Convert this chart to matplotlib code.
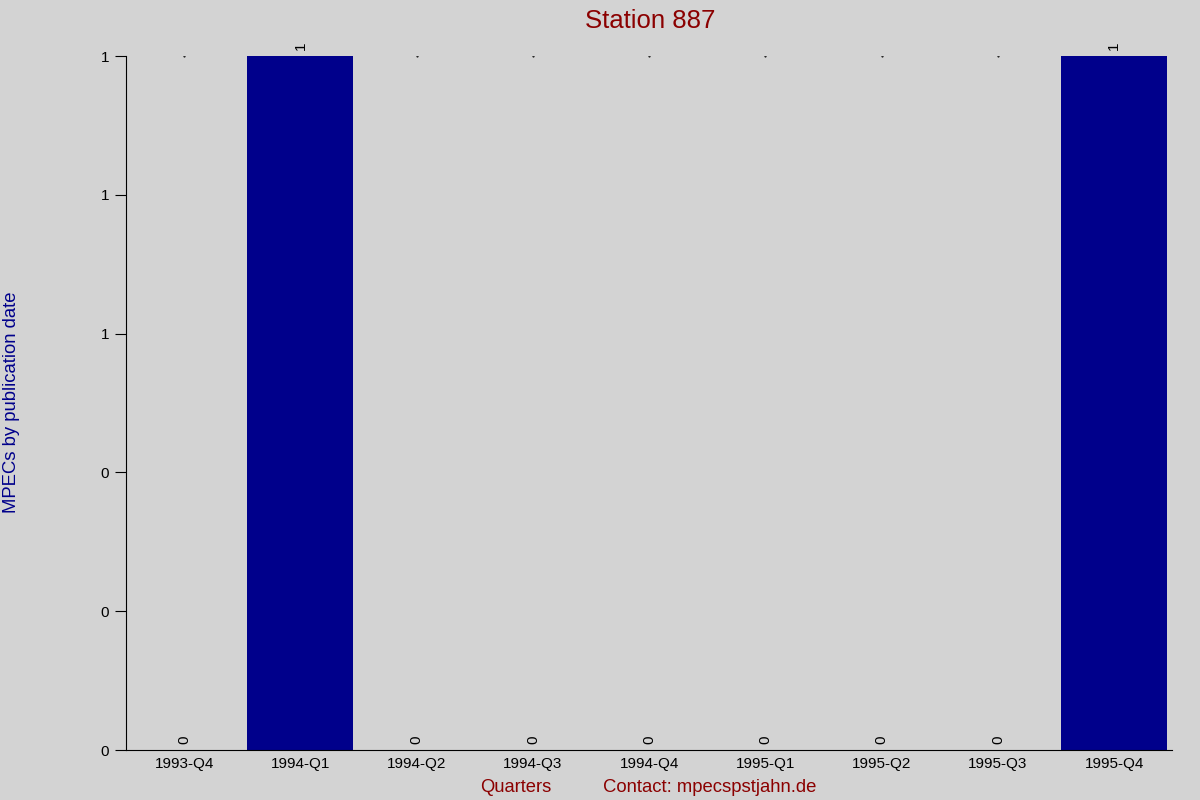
import matplotlib
matplotlib.use("Agg")
import matplotlib.pyplot as plt

plt.rcParams['font.family'] = ['Liberation Sans', 'DejaVu Sans']

categories = ["1993-Q4", "1994-Q1", "1994-Q2", "1994-Q3", "1994-Q4",
              "1995-Q1", "1995-Q2", "1995-Q3", "1995-Q4"]
values = [0, 1, 0, 0, 0, 0, 0, 0, 1]
ytick_vals = [0, 0.2, 0.4, 0.6, 0.8, 1.0]
ytick_labels = ["0", "0", "0", "1", "1", "1"]

bg = "#d3d3d3"
fig = plt.figure(figsize=(12, 8), dpi=100, facecolor=bg)
ax = fig.add_axes([0.105, 0.0625, 0.872, 0.8675], facecolor=bg)

x = list(range(len(categories)))
ax.bar(x, values, width=0.91, color="#00008b")
for xi, v in zip(x, values):
    ax.text(xi, v + 0.008, str(v), rotation=90, ha="center", va="bottom",
            fontsize=11, color="black")
    if v == 0:
        ax.plot([xi], [1.0], marker=".", markersize=1, color="black")

ax.set_xlim(-0.5, 8.5)
ax.set_ylim(0, 1.0)
ax.set_xticks(x)
ax.set_xticklabels(categories, fontsize=11)
ax.tick_params(axis="x", length=0, pad=5)
ax.set_yticks(ytick_vals)
ax.set_yticklabels(ytick_labels, fontsize=11)
ax.tick_params(axis="y", length=8, pad=4)
for s in ["top", "right"]:
    ax.spines[s].set_visible(False)
ax.spines["bottom"].set_bounds(-0.5, 8.5)

fig.text(0.5417, 0.974, "Station 887", ha="center", va="center",
         fontsize=18.5, color="#8b0000")
fig.text(0.0092, 0.497, "MPECs by publication date", rotation=90,
         ha="center", va="center", fontsize=13.3, color="#00008b")
fig.text(0.43, 0.015, "Quarters", ha="center", va="center",
         fontsize=13.2, color="#8b0000")
fig.text(0.5917, 0.015, "Contact: mpecspstjahn.de", ha="center", va="center",
         fontsize=13.3, color="#8b0000")

fig.savefig("out.png", dpi=100, facecolor=bg)
